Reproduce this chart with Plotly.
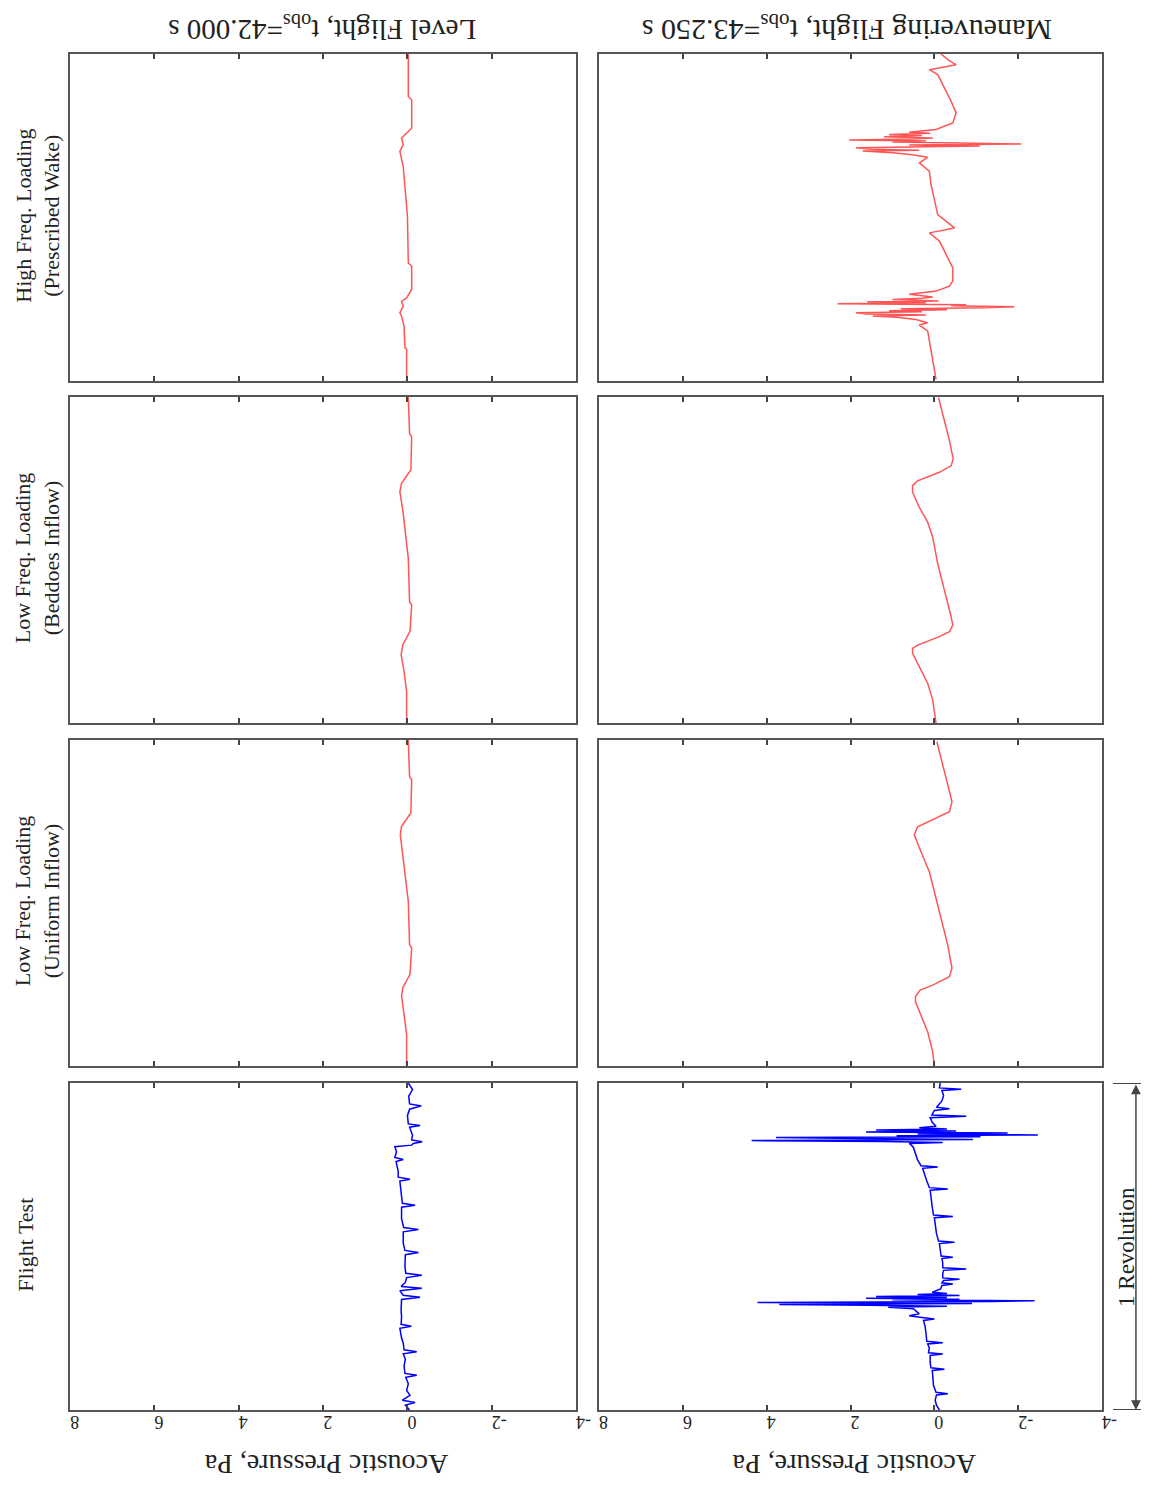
import plotly.graph_objects as go

# ---------------- data (time in % of one revolution, pressure in Pa) ----------------
# Level flight
lvl_test_t = [0.0, 1.5, 2.3, 3.0, 4.5, 6.0, 8.0, 10.0, 10.6, 11.2, 13.5, 15.5, 17.2, 17.8, 18.4,
              20.5, 22.0, 25.0, 25.6, 26.2, 28.5, 30.6, 33.8, 34.5, 35.1, 36.5, 37.2, 37.8, 39.0,
              40.5, 41.2, 41.8, 44.0, 47.5, 48.2, 48.8, 51.0, 54.5, 55.2, 55.8, 58.5, 62.0, 62.6,
              63.2, 66.5, 70.0, 70.6, 71.2, 73.0, 76.0, 76.6, 77.2, 79.0, 80.5, 81.0, 81.5, 82.0,
              82.6, 84.0, 86.5, 87.0, 87.5, 90.0, 92.0, 93.0, 93.6, 96.0, 98.0, 100.0]
lvl_test_p = [-0.05, 0.05, -0.18, 0.12, -0.06, 0.02, -0.02, 0.04, -0.22, 0.06, 0.08, 0.05, 0.10, -0.22, 0.08,
              0.10, 0.14, 0.18, -0.09, 0.15, 0.14, 0.15, 0.14, -0.30, 0.10, 0.18, -0.34, 0.15, 0.05,
              0.02, -0.34, 0.04, 0.06, 0.05, -0.26, 0.06, 0.10, 0.10, -0.26, 0.09, 0.14, 0.14, -0.18,
              0.12, 0.15, 0.18, -0.06, 0.22, 0.22, 0.27, 0.10, 0.30, 0.26, 0.30, -0.10, -0.14, -0.35,
              -0.10, -0.12, -0.05, -0.30, -0.02, 0.00, -0.05, -0.33, -0.05, -0.03, -0.12, -0.02]

lvl_unif_t = [0.0, 9.7, 15.8, 21.5, 24.0, 28.1, 36.2, 37.2, 50.5, 59.7, 65.3, 70.9, 73.5, 77.6, 87.8, 88.8, 100.0]
lvl_unif_p = [0.02, 0.02, 0.08, 0.14, 0.11, -0.06, -0.10, -0.05, -0.02, 0.06, 0.11, 0.17, 0.14, -0.08, -0.10, -0.05, -0.02]

lvl_bedd_t = [0.0, 9.7, 15.8, 21.0, 24.0, 28.1, 36.2, 37.2, 50.5, 59.7, 65.3, 70.9, 73.5, 77.6, 87.8, 88.8, 100.0]
lvl_bedd_p = [0.02, 0.02, 0.08, 0.15, 0.11, -0.06, -0.10, -0.05, -0.02, 0.06, 0.11, 0.18, 0.14, -0.08, -0.10, -0.05, -0.02]

lvl_high_t = [0.0, 9.7, 10.2, 16.8, 19.8, 20.9, 22.9, 24.4, 25.4, 28.0, 35.1, 36.1, 50.4, 60.0, 65.6,
              70.2, 72.2, 74.3, 75.8, 77.3, 86.0, 87.0, 100.0]
lvl_high_p = [0.02, 0.02, 0.06, 0.08, 0.14, 0.18, 0.10, 0.14, 0.02, -0.10, -0.10, -0.02, 0.00, 0.06, 0.10,
              0.18, 0.10, 0.14, 0.02, -0.10, -0.10, -0.02, -0.02]

# Maneuvering flight
man_test_t = [0.0, 1.5, 3.0, 4.6, 5.0, 5.4, 7.5, 9.5, 12.1, 12.5, 12.9, 14.5, 16.7, 17.1, 17.5,
              19.0, 20.2, 20.6, 21.0, 23.5, 25.5, 27.4, 27.8, 28.3, 28.8, 29.4, 30.3,
              31.0, 31.4, 31.7, 32.0, 32.3, 32.6, 32.9, 33.2, 33.4, 33.7, 33.9, 34.2, 34.4,
              34.7, 35.0, 35.3, 35.6, 36.0,
              37.0, 38.1, 38.5, 38.9, 39.6, 40.0, 40.4, 41.8, 42.7, 43.1, 43.5, 45.0, 46.3,
              46.7, 47.1, 49.0, 50.9, 51.3, 51.7, 54.0, 56.5, 58.8, 59.2, 59.6, 62.0, 64.5,
              67.2, 67.6, 68.0, 70.0, 72.0, 73.9, 74.3, 74.7, 76.5, 78.5, 80.3,
              81.0, 81.5, 81.8, 82.1, 82.4, 82.7, 83.0, 83.3, 83.6, 83.9, 84.1, 84.4, 84.7,
              85.0, 85.3, 85.6, 85.9, 86.3, 86.8,
              88.0, 89.4, 89.8, 90.2, 91.6, 92.1, 92.6, 94.5, 96.2, 97.7, 98.1, 98.5, 100.0]
man_test_p = [-0.12, -0.05, -0.02, -0.05, -0.32, -0.04, 0.02, 0.04, 0.05, -0.24, 0.08, 0.10, 0.10, -0.20, 0.14,
              0.12, 0.16, -0.20, 0.18, 0.20, 0.22, 0.26, 0.00, 0.30, 0.60, 0.36, 0.44,
              0.50, 1.10, -0.30, 1.60, 3.70, -0.90, 4.22, -1.40, -2.39, 1.00, -0.60, 1.63, -0.30,
              1.39, -0.60, 0.40, -0.30, 0.05,
              -0.15, -0.18, -0.44, -0.18, -0.22, -0.60, -0.20, -0.20, -0.22, -0.76, -0.20, -0.20, -0.18,
              -0.44, -0.16, -0.14, -0.12, -0.48, -0.10, -0.05, -0.02, 0.00, -0.44, 0.02, 0.05, 0.08,
              0.10, -0.32, 0.12, 0.18, 0.24, 0.28, -0.08, 0.32, 0.40, 0.46, 0.50,
              0.55, 0.60, -0.20, 1.20, 4.36, -0.92, 1.80, 3.78, -1.10, 0.90, -2.47, 0.40, -1.75,
              1.63, -0.52, 1.39, -0.30, 0.36, -0.04,
              0.05, 0.10, -0.76, 0.06, 0.00, -0.36, -0.05, -0.18, -0.22, -0.18, -0.64, -0.12, -0.14]

man_unif_t = [0.0, 4.4, 10.5, 15.6, 19.7, 21.3, 23.3, 24.8, 27.4, 30.0, 37.1, 47.3, 55.5, 59.6,
              65.7, 70.9, 73.4, 74.9, 78.0, 81.1, 85.2, 92.3, 99.5]
man_unif_p = [0.00, 0.04, 0.16, 0.32, 0.45, 0.45, 0.34, 0.04, -0.36, -0.42, -0.32, -0.12, 0.04, 0.12,
              0.32, 0.48, 0.40, 0.16, -0.36, -0.42, -0.34, -0.20, -0.06]

man_bedd_t = [0.0, 7.1, 12.2, 16.3, 21.4, 22.9, 23.9, 26.5, 28.0, 30.0, 32.6, 40.7, 48.9, 57.0,
              61.6, 66.2, 70.8, 72.8, 74.3, 76.9, 78.9, 81.0, 86.6, 92.7, 99.8]
man_bedd_p = [-0.04, 0.04, 0.16, 0.32, 0.52, 0.52, 0.40, -0.12, -0.36, -0.44, -0.40, -0.24, -0.08, 0.04,
              0.16, 0.36, 0.52, 0.52, 0.40, -0.12, -0.40, -0.45, -0.36, -0.24, -0.10]

man_high_t = [0.5, 9.2, 15.3, 17.1, 17.8, 18.8,
              19.5, 19.9, 20.2, 20.5, 20.9, 21.2, 21.5, 21.8, 22.1, 22.4, 22.7, 23.0, 23.3, 23.6,
              23.9, 24.2, 24.5, 24.9, 25.3, 25.7, 26.5,
              27.5, 29.0, 30.6, 34.6, 38.7, 42.8, 45.3, 46.8, 50.9, 60.1, 64.2, 66.7, 68.4, 69.2,
              69.8, 70.3, 70.6, 70.9, 71.3, 71.6, 71.9, 72.2, 72.5, 72.8, 73.1, 73.4, 73.7,
              74.0, 74.3, 74.7, 75.1, 75.4, 75.8, 76.1,
              76.9, 78.9, 82.0, 85.5, 89.6, 93.7, 95.2, 96.7, 98.3, 100.0]
man_high_p = [-0.04, 0.08, 0.16, 0.36, 0.16, 0.44,
              0.90, 1.47, 0.20, 1.60, 1.87, 0.30, 1.08, -0.30, 0.80, -1.20, -1.91, -0.40, -0.76, 2.31,
              0.20, 1.60, -0.10, 1.00, 0.30, 0.04, 0.60,
              -0.04, -0.36, -0.44, -0.44, -0.28, -0.12, 0.12, -0.48, -0.08, 0.08, 0.12, 0.36, 0.16, 0.52,
              1.00, 1.71, 0.36, 1.50, 1.87, -0.40, -1.08, 0.60, -2.07, -0.60, 1.00, 0.20, 2.03,
              0.50, 0.04, 1.20, 0.30, 1.08, 0.10, 0.60,
              -0.04, -0.44, -0.52, -0.40, -0.24, -0.08, 0.12, -0.52, -0.32, -0.16]

pressure_ticks = [8, 6, 4, 2, 0, -2, -4]
tick_labels = ["8", "6", "4", "2", "0", "-2", "-4"]
row_labels = ["High Freq. Loading<br>(Prescribed Wake)",
              "Low Freq. Loading<br>(Beddoes Inflow)",
              "Low Freq. Loading<br>(Uniform Inflow)",
              "Flight Test"]
col_titles = ["Level Flight, t<sub>obs</sub>=42.000 s",
              "Maneuvering Flight, t<sub>obs</sub>=43.250 s"]

# ---------------- layout (target positions in page pixels) ----------------
OFF = 8
W, H = 1149, 1480
SX, BX = 0.989, -1.2   # measured horizontal mapping of the rendered page
col_px = [(69, 576), (599, 1103)]
row_px = [(54, 381), (397, 723), (740, 1066), (1083, 1410)]

def px(x):
    return min(1.0, ((x - BX) / SX - OFF) / W)

def py(y):
    return 1 - (y - OFF) / H

BLUE = "#0000ff"
RED = "rgb(255,85,85)"

panels = {
    (1, 1): (lvl_high_t, lvl_high_p, RED), (1, 2): (man_high_t, man_high_p, RED),
    (2, 1): (lvl_bedd_t, lvl_bedd_p, RED), (2, 2): (man_bedd_t, man_bedd_p, RED),
    (3, 1): (lvl_unif_t, lvl_unif_p, RED), (3, 2): (man_unif_t, man_unif_p, RED),
    (4, 1): (lvl_test_t, lvl_test_p, BLUE), (4, 2): (man_test_t, man_test_p, BLUE),
}

fig = go.Figure()
FONT = "Liberation Serif"
layout = dict(width=W, height=H, autosize=False, margin=dict(l=0, r=0, t=0, b=0),
              plot_bgcolor="white", paper_bgcolor="white", showlegend=False,
              font=dict(family=FONT, size=17, color="#222"))

for (r, c), (t, p, col) in panels.items():
    k = (r - 1) * 2 + c
    sfx = "" if k == 1 else str(k)
    fig.add_trace(go.Scatter(x=p, y=t, mode="lines", line=dict(color=col, width=1.5),
                             xaxis="x" + sfx, yaxis="y" + sfx, hoverinfo="skip"))
    a, b = col_px[c - 1]
    top, bot = row_px[r - 1]
    layout["xaxis" + sfx] = dict(domain=[px(a), px(b)], range=[8, -4], anchor="y" + sfx,
                                 tickvals=pressure_ticks, ticktext=tick_labels,
                                 ticks="inside", ticklen=5, tickwidth=2, tickcolor="#444",
                                 mirror="allticks", showline=True, linecolor="#555", linewidth=2,
                                 showgrid=False, zeroline=False, showticklabels=(r == 4),
                                 tickangle=180, tickfont=dict(family=FONT, size=18, color="#222"),
                                 fixedrange=True)
    layout["yaxis" + sfx] = dict(domain=[py(bot), py(top)], range=[0, 100], anchor="x" + sfx,
                                 showticklabels=False, ticks="", showline=True, mirror=True,
                                 linecolor="#555", linewidth=2, showgrid=False, zeroline=False,
                                 fixedrange=True)

fig.update_layout(**layout)

ann = []
title_x = [322, 848]
title_size = [29, 30]
axis_title_x = [326, 855]
for i, txt in enumerate(col_titles):
    ann.append(dict(text=txt, x=px(title_x[i]), y=py(28), xref="paper", yref="paper",
                    showarrow=False, textangle=180, font=dict(family=FONT, size=title_size[i], color="#222"),
                    xanchor="center", yanchor="middle"))
    ann.append(dict(text="Acoustic Pressure, Pa", x=px(axis_title_x[i]), y=py(1465),
                    xref="paper", yref="paper", showarrow=False, textangle=180,
                    font=dict(family=FONT, size=28, color="#222"), xanchor="center", yanchor="middle"))
for r, txt in enumerate(row_labels):
    top, bot = row_px[r]
    xc = 24 if "<br>" not in txt else 36
    ann.append(dict(text=txt, x=px(xc), y=py((top + bot) / 2 - 2), xref="paper", yref="paper",
                    showarrow=False, textangle=-90, font=dict(family=FONT, size=22, color="#222"),
                    xanchor="center", yanchor="middle"))

# 1 Revolution arrow spanning the flight-test panel time range
x8_arrow = (px(1137) - px(col_px[1][0])) / (px(col_px[1][1]) - px(col_px[1][0]))
ann.append(dict(text="", x=x8_arrow, y=0, xref="x8 domain", yref="y8", ax=x8_arrow, ay=100,
                axref="x8 domain", ayref="y8", showarrow=True, arrowhead=2, arrowside="end+start",
                arrowwidth=1.5, arrowcolor="#444", arrowsize=1.3))
ann.append(dict(text="1 Revolution", x=px(1127), y=py(1247), xref="paper", yref="paper", showarrow=False,
                textangle=-90, font=dict(family=FONT, size=23, color="#222"),
                xanchor="center", yanchor="middle"))
fig.update_layout(annotations=ann)

shapes = []
for yy in (0, 100):
    shapes.append(dict(type="line", xref="paper", yref="y8", x0=px(1114), x1=1.0, y0=yy, y1=yy,
                       line=dict(color="#444", width=2)))
fig.update_layout(shapes=shapes)

fig.write_html("out.html")
